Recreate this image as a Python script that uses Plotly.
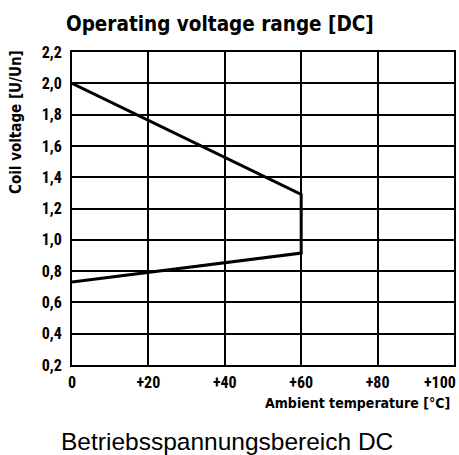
import plotly.graph_objects as go

temperature = [0, 60, 60, 0]
voltage = [2.0, 1.29, 0.915, 0.73]

x_ticks = [0, 20, 40, 60, 80, 100]
x_tick_labels = ["0", "+20", "+40", "+60", "+80", "+100"]
y_ticks = [0.2, 0.4, 0.6, 0.8, 1.0, 1.2, 1.4, 1.6, 1.8, 2.0, 2.2]
y_tick_labels = ["0,2", "0,4", "0,6", "0,8", "1,0", "1,2", "1,4", "1,6", "1,8", "2,0", "2,2"]

title_text = "Operating voltage range [DC]"
y_title = "Coil voltage [U/Un]"
x_title = "Ambient temperature [°C]"
caption = "Betriebsspannungsbereich DC"

COND = "Roboto Condensed, Liberation Sans Narrow, DejaVu Sans Condensed, Arial Narrow, sans-serif"
HEAVY = "DejaVu Sans Condensed, Roboto Condensed, sans-serif"
tick_font = dict(family=COND, size=16, color="black", weight="bold")

fig = go.Figure()
fig.add_trace(go.Scatter(
    x=temperature, y=voltage, mode="lines",
    line=dict(color="black", width=3), showlegend=False, hoverinfo="skip",
))

fig.update_layout(
    width=459, height=455,
    margin=dict(l=72, r=5, t=52, b=90, autoexpand=False),
    paper_bgcolor="white", plot_bgcolor="white",
    title=dict(text=title_text, x=0.479, xanchor="center", y=1 - 24 / 455, yanchor="middle",
               font=dict(family=HEAVY, size=20.5, color="black", weight="bold")),
)
# last x tick label sits against the right edge: drawn right-aligned at its tick
fig.update_xaxes(
    range=[0, 100], tickvals=x_ticks, ticktext=x_tick_labels[:-1] + [""],
    showgrid=True, gridcolor="black", gridwidth=1.6,
    showline=True, linecolor="black", linewidth=2, mirror=True,
    zeroline=False, ticks="", ticklabelstandoff=2, automargin=False,
    tickfont=tick_font, fixedrange=True,
)
fig.update_yaxes(
    range=[0.2, 2.2], tickvals=y_ticks, ticktext=y_tick_labels,
    showgrid=True, gridcolor="black", gridwidth=1.6,
    showline=True, linecolor="black", linewidth=2, mirror=True,
    zeroline=False, ticks="", ticklabelstandoff=5, automargin=False,
    tickfont=tick_font, fixedrange=True,
)

fig.add_annotation(text=x_tick_labels[-1], x=x_ticks[-1], xref="x", y=0, yref="paper",
                   xanchor="right", yanchor="top", xshift=4, yshift=-6, showarrow=False,
                   font=tick_font)
fig.add_annotation(text=y_title, xref="paper", yref="paper", x=-0.147, y=0.776,
                   xanchor="center", yanchor="middle", textangle=-90, showarrow=False,
                   font=dict(family=HEAVY, size=15, color="black", weight="bold"))
fig.add_annotation(text=x_title, xref="paper", yref="paper", x=0.995, y=-0.121,
                   xanchor="right", yanchor="middle", showarrow=False,
                   font=dict(family=HEAVY, size=14, color="black", weight="bold"))
fig.add_annotation(text=caption, xref="paper", yref="paper", x=0.4045, y=-0.243,
                   xanchor="center", yanchor="middle", showarrow=False,
                   font=dict(family="Liberation Sans, Arial, sans-serif", size=24.5, color="black"))

fig.write_html("out.html", config={"displayModeBar": False},
               post_script="document.body.style.margin='0';")
